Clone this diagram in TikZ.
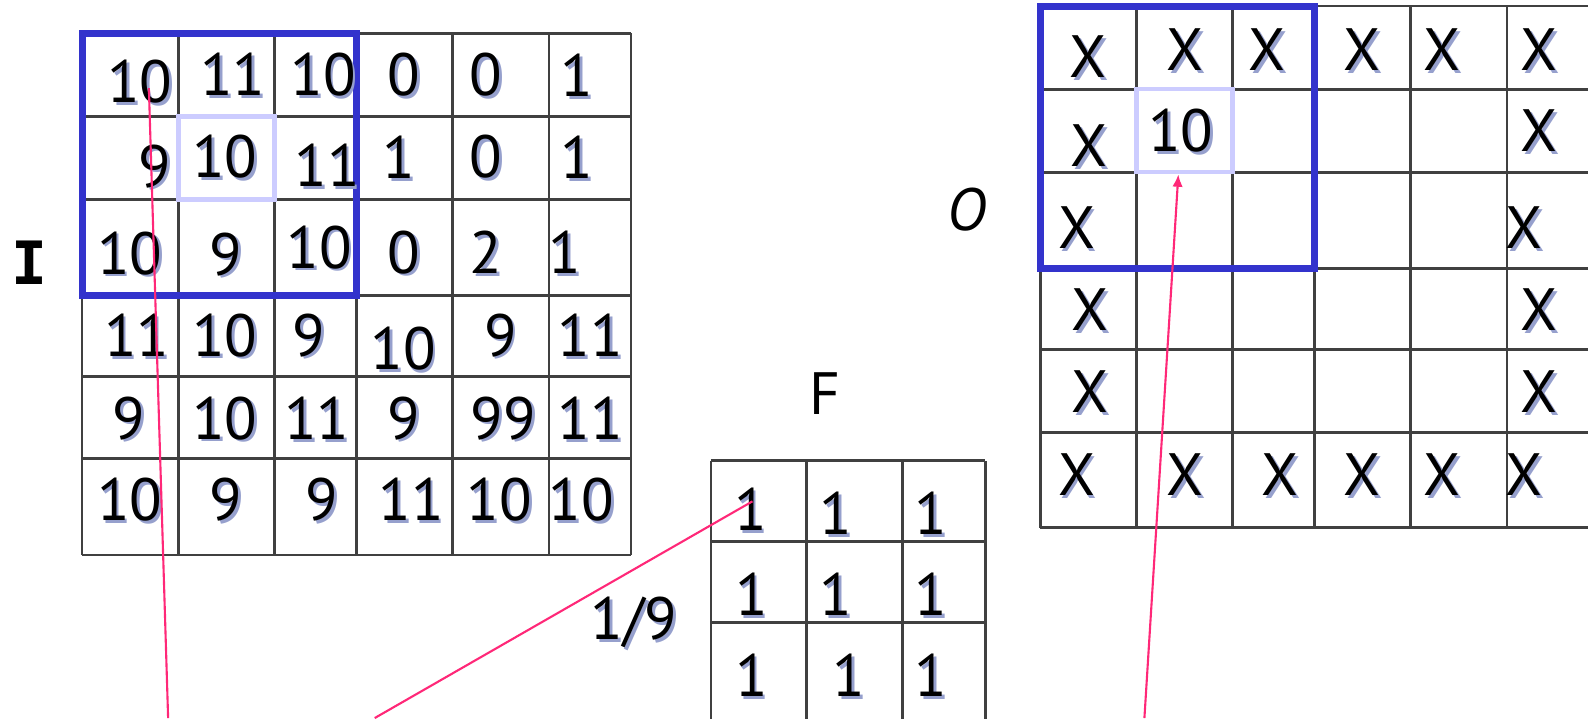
\documentclass[tikz,border=0pt]{standalone}
\usepackage{fontspec}
\setmainfont{PT Sans}
\newfontfamily\monoI{DejaVu Sans Mono}
\usepackage{xcolor}
\usepackage{tikz}
\usetikzlibrary{arrows.meta,fit}

\definecolor{winblue}{RGB}{51,51,204}
\definecolor{winlite}{RGB}{204,204,255}
\definecolor{linkpink}{RGB}{255,40,120}
\definecolor{shadowc}{RGB}{150,160,205}
\newcommand\shd[1]{\rlap{\smash{\hspace{0.28mm}\raisebox{-0.28mm}{\color{shadowc}#1}}}#1}

\begin{document}
\begin{tikzpicture}[x=0.1013mm,y=-0.1013mm,>=Latex,
  every node/.style={font=\fontsize{17}{20}\selectfont},
  num/.style={inner sep=0pt},
  gridline/.style={draw=black!75,line width=0.8pt},
  winbox/.style={draw=winblue,line width=2pt},
  litebox/.style={draw=winlite,line width=1.3pt,inner sep=0pt},
  link/.style={draw=linkpink,line width=0.6pt}]
\useasboundingbox (0,0) rectangle (1568,709);
\foreach \x in {81,176,271,352,447,542,623} \draw[gridline] (\x,33) -- (\x,548);
\foreach \y in {33,115,197,292,372,453,548} \draw[gridline] (81,\y) -- (623,\y);
\foreach \x in {702,796,891,973} \draw[gridline] (\x,455) -- (\x,715);
\foreach \y in {455,535,615} \draw[gridline] (702,\y) -- (973,\y);
\foreach \x in {1027,1122,1217,1298,1393,1488} \draw[gridline] (\x,6) -- (\x,521);
\foreach \y in {6,88,170,265,345,427,521} \draw[gridline] (1027,\y) -- (1575,\y);
\node[litebox,fit={(176,115) (271,197)}] (ibox) {};
\node[litebox,fit={(1122,88) (1217,170)}] (obox) {};
\draw[winbox] (81,33) rectangle (352,292);
\draw[winbox] (1027,6) rectangle (1298,265);
\foreach \px/\py/\t [count=\k] in {138/81/10,230/73/11,319/74/10,399/74/0,480/74/0,570/74/1,
  153/164/9,222/155/10,323/163/11,394/155/1,480/155/0,570/155/1,
  128/250/10,223/251/9,315/244/10,399/249/0,480/249/2,558/249/1,
  135/331/11,222/331/10,305/331/9,398/344/10,494/331/9,583/331/11,
  127/413/9,222/413/10,313/413/11,399/413/9,497/413/99,583/413/11,
  128/493/10,223/493/9,318/493/9,406/493/11,493/493/10,574/493/10}
  \node[num] (i\k) at (\px,\py) {\shd{\t}};
\foreach \px/\py [count=\k] in {1074/56,1170/49,1251/49,1345/49,1424/49,1520/49,
  1075/144,1520/129,1063/225,1505/225,1076/306,1520/306,1076/387,1520/387,
  1063/469,1170/469,1264/469,1345/469,1424/469,1505/469}
  \node[num] (o\k) at (\px,\py) {\shd{X}};
\node[num] (oval) at (1166,129) {\shd{10}};
\foreach \px/\py [count=\k] in {741/503,825/507,919/507,742/587,825/587,919/587,742/667,838/667,919/667}
  \node[num] (f\k) at (\px,\py) {\shd{1}};
\node (ilabel) at (29,259) {\monoI\bfseries I};
\node (flabel) at (815,389) {F};
\node (olabel) at (955,207) {\itshape O};
\node[num] (scale) at (626,615) {\shd{1/9}};
\coordinate (src1) at (166,709);
\coordinate (src2) at (370,709);
\coordinate (src3) at (1130,709);
\draw[link] (src1) -- ([shift={(9,6)}]i1.center);
\draw[link] (src2) -- ([shift={(2,-8)}]f1.center);
\draw[link,-{Latex[length=3.5pt,width=3pt]}] (src3) -- ([shift={(-6,0)}]obox.south);
\end{tikzpicture}
\end{document}
